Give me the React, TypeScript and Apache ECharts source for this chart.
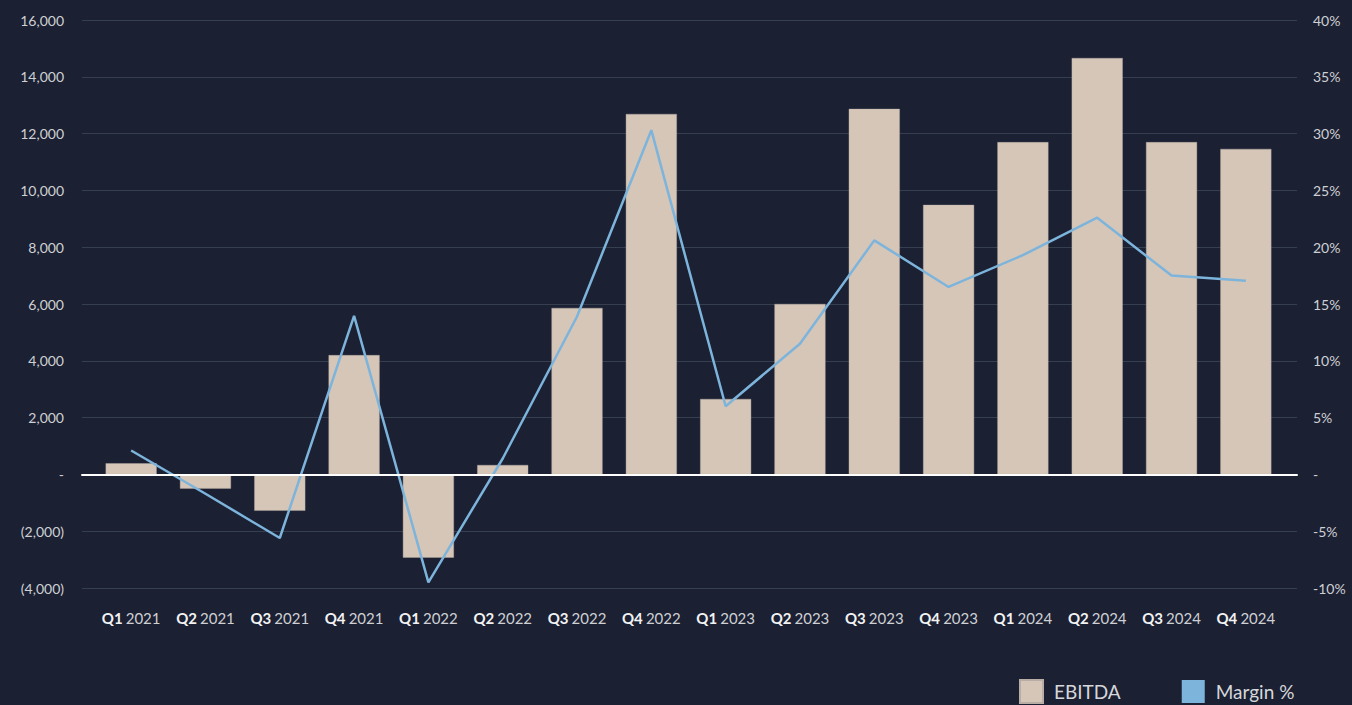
import React, { useEffect, useRef } from "react";
import * as echarts from "echarts";

const quarters = ["Q1", "Q2", "Q3", "Q4", "Q1", "Q2", "Q3", "Q4", "Q1", "Q2", "Q3", "Q4", "Q1", "Q2", "Q3", "Q4"];
const years = ["2021", "2021", "2021", "2021", "2022", "2022", "2022", "2022", "2023", "2023", "2023", "2023", "2024", "2024", "2024", "2024"];
const categories = quarters.map((q, i) => `${q} ${years[i]}`);
const ebitda = [390, -500, -1280, 4200, -2930, 330, 5860, 12690, 2655, 6000, 12870, 9490, 11700, 14660, 11700, 11460];
const marginPct = [2.1, -1.7, -5.6, 13.95, -9.5, 1.4, 13.9, 30.3, 6.0, 11.5, 20.6, 16.5, 19.3, 22.6, 17.5, 17.05];

const BG = "#1b2033";
const LABEL = "#cfd0d3";
const FONT = "Lato, 'Open Sans', sans-serif";

export default function App() {
  const ref = useRef<HTMLDivElement>(null);
  useEffect(() => {
    document.body.style.margin = "0";
    document.body.style.background = BG;
    const chart = echarts.init(ref.current!, null, { renderer: "svg" });
    const leftFmt = (v: number) => {
      if (v === 0) return "-";
      const s = Math.abs(v).toLocaleString("en-US");
      return v < 0 ? `(${s})` : s;
    };
    const rightFmt = (v: number) => (v === 0 ? "-" : `${v}%`);
    chart.setOption({
      animation: false,
      backgroundColor: BG,
      textStyle: { fontFamily: FONT },
      legend: {
        data: ["EBITDA", "Margin %"],
        left: 1019,
        top: 679,
        padding: 0,
        icon: "rect",
        itemWidth: 23,
        itemHeight: 23,
        itemGap: 61,
        formatter: (name: string) => `{g|}{t|${name}}`,
        textStyle: {
          color: "#d6d7da",
          fontSize: 19,
          fontFamily: FONT,
          rich: {
            g: { width: 6 },
            t: { color: "#d6d7da", fontSize: 19, fontFamily: FONT },
          },
        },
      },
      grid: [
        { left: 82, right: 55, top: 20, bottom: 117 },
        { left: 94, right: 69, top: 20, bottom: 117 },
      ],
      xAxis: [
        {
          type: "value",
          gridIndex: 0,
          min: 0,
          max: 1,
          z: 10,
          axisLine: { show: true, onZero: true, lineStyle: { color: "#ffffff", width: 2 } },
          axisTick: { show: false },
          axisLabel: { show: false },
          splitLine: { show: false },
        },
        {
          type: "category",
          gridIndex: 1,
          data: categories,
          axisLine: { show: false },
          axisTick: { show: false },
          axisLabel: {
            interval: 0,
            margin: 22,
            formatter: (_: string, i: number) => `{q|${quarters[i]}} {y|${years[i]}}`,
            rich: {
              q: { color: "#f2f2f2", fontWeight: "bold", fontSize: 15, fontFamily: FONT },
              y: { color: LABEL, fontSize: 15, fontFamily: FONT },
            },
          },
        },
      ],
      yAxis: [
        {
          type: "value",
          gridIndex: 0,
          position: "left",
          min: -4000,
          max: 16000,
          interval: 2000,
          axisLine: { show: false },
          axisTick: { show: false },
          axisLabel: { color: LABEL, fontSize: 14, margin: 18, formatter: leftFmt, fontFamily: FONT },
          splitLine: { show: true, lineStyle: { color: "#363f50", width: 1 } },
        },
        {
          type: "value",
          gridIndex: 0,
          position: "right",
          min: -10,
          max: 40,
          interval: 5,
          axisLine: { show: false },
          axisTick: { show: false },
          axisLabel: { color: LABEL, fontSize: 14, margin: 16, formatter: rightFmt, fontFamily: FONT },
          splitLine: { show: false },
        },
        { type: "value", gridIndex: 1, min: -4000, max: 16000, show: false },
        { type: "value", gridIndex: 1, min: -10, max: 40, show: false },
      ],
      series: [
        {
          name: "EBITDA",
          type: "bar",
          xAxisIndex: 1,
          yAxisIndex: 2,
          data: ebitda,
          barWidth: 51,
          itemStyle: { color: "#d6c6b8", borderColor: "#b9aea6", borderWidth: 0.4 },
        },
        {
          name: "Margin %",
          type: "line",
          xAxisIndex: 1,
          yAxisIndex: 3,
          data: marginPct,
          showSymbol: false,
          symbol: "none",
          lineStyle: { color: "#7db4dc", width: 2.5 },
          itemStyle: { color: "#7db4dc" },
          z: 5,
        },
      ],
    });
    return () => chart.dispose();
  }, []);
  return <div ref={ref} style={{ width: 1352, height: 705, position: "absolute", left: 0, top: 0 }} />;
}
